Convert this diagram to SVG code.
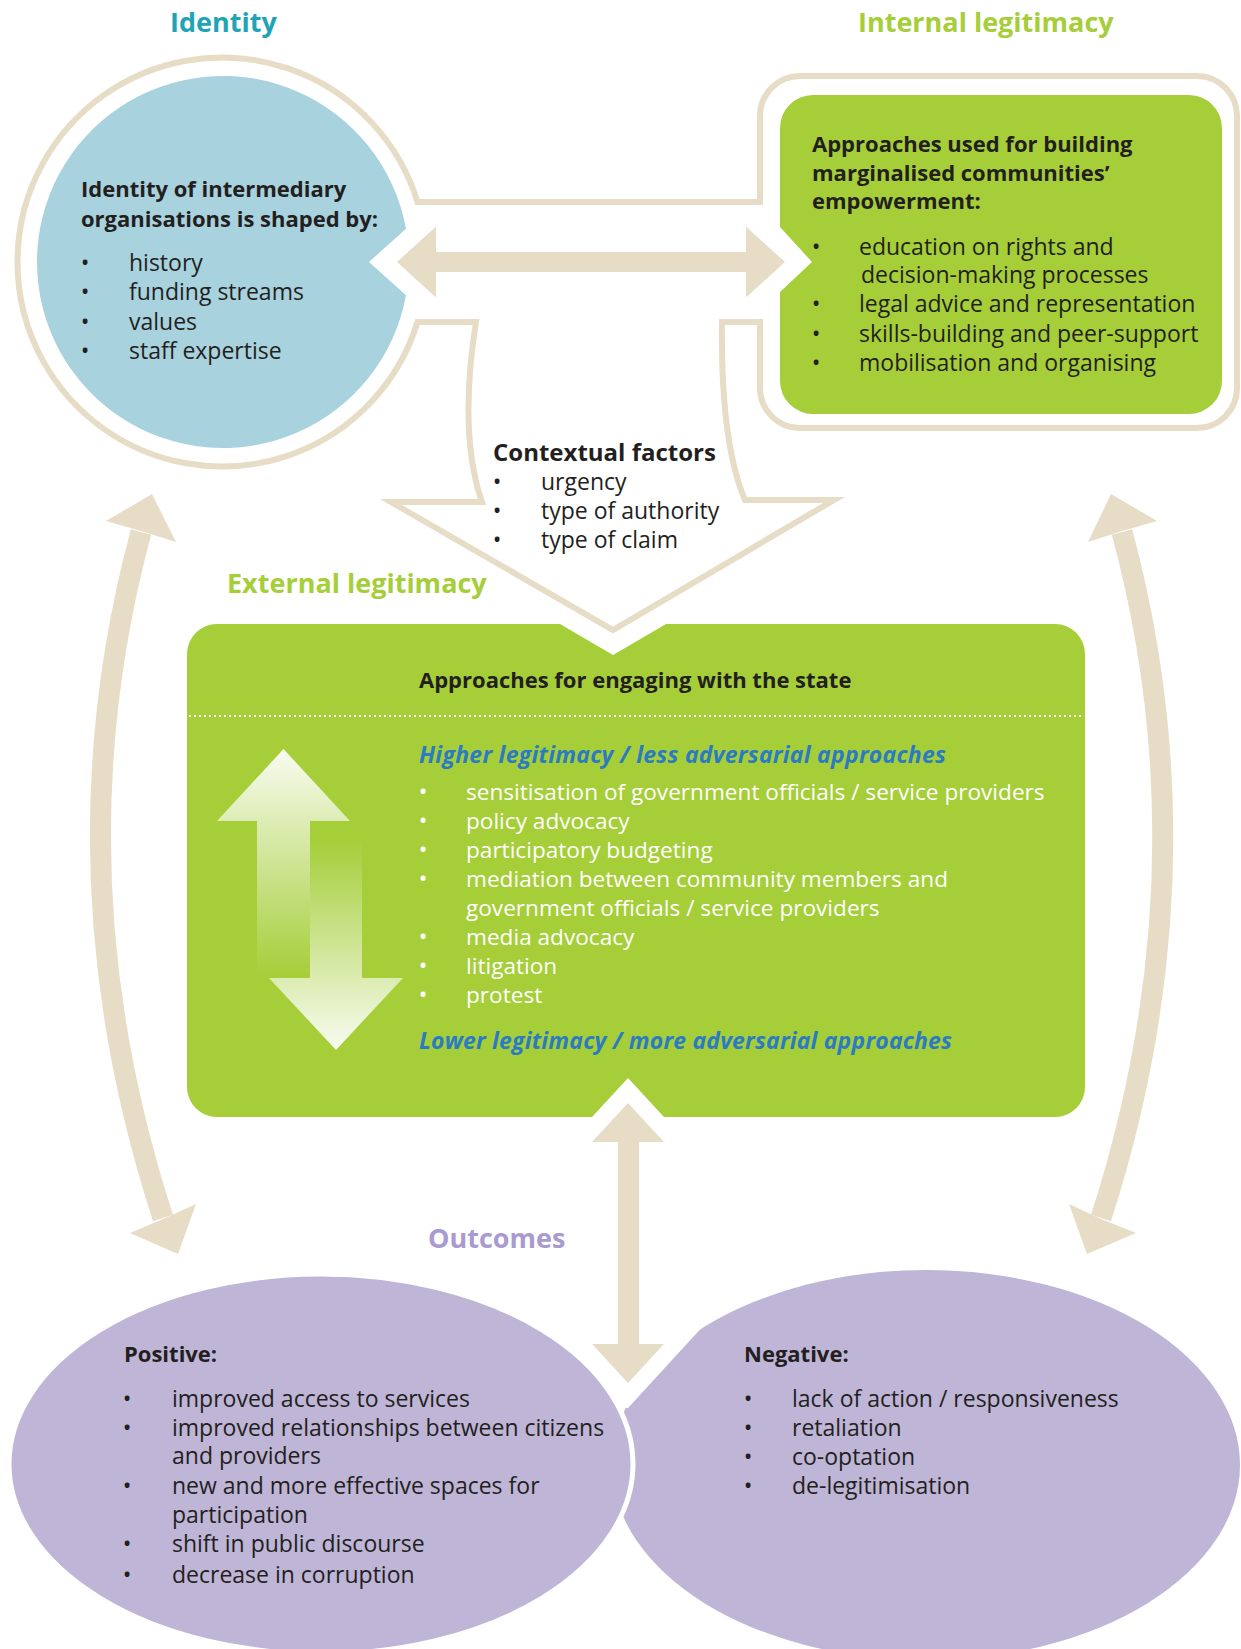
<svg xmlns="http://www.w3.org/2000/svg" width="1241" height="1649" viewBox="0 0 1241 1649">
<defs>
<style>
text{font-family:'Open Sans','Liberation Sans',Arial,sans-serif;fill:#231F20}
.ttl{font-size:27px;font-weight:700}
.hd{font-size:22px;font-weight:700}
.tx{font-size:23px;font-weight:400}
.tm{font-size:22.6px;font-weight:400;fill:#FFFFFF}
.bu{font-size:23px;text-anchor:middle}
.w{fill:#FFFFFF}
.it{font-size:23px;font-weight:700;font-style:italic;fill:#2B7BC2}
.beige{fill:#E7DCC5}
.shaft{fill:none;stroke:#E7DCC5;stroke-width:21}
</style>
<linearGradient id="gUp" gradientUnits="userSpaceOnUse" x1="0" y1="749" x2="0" y2="977">
<stop offset="0" stop-color="#FFFFFF" stop-opacity="0.93"/>
<stop offset="0.35" stop-color="#FFFFFF" stop-opacity="0.6"/>
<stop offset="1" stop-color="#FFFFFF" stop-opacity="0"/>
</linearGradient>
<linearGradient id="gDn" gradientUnits="userSpaceOnUse" x1="0" y1="1050" x2="0" y2="840">
<stop offset="0" stop-color="#FFFFFF" stop-opacity="0.93"/>
<stop offset="0.35" stop-color="#FFFFFF" stop-opacity="0.6"/>
<stop offset="1" stop-color="#FFFFFF" stop-opacity="0"/>
</linearGradient>
</defs>
<rect width="1241" height="1649" fill="#FFFFFF"/>

<g id="frame">
<path d="M 417.5 202 A 204.5 204.5 0 1 0 417.5 322 L 476 322 C 466 385 464 450 482 502 L 391 502 L 613 630 L 834 500 L 745 500 C 728 460 721 400 722 322 L 760 322 L 760 388 A 40 40 0 0 0 800 428 L 1197 428 A 40 40 0 0 0 1237 388 L 1237 116 A 40 40 0 0 0 1197 76 L 800 76 A 40 40 0 0 0 760 116 L 760 202 Z" fill="#FFFFFF" stroke="#E7DCC5" stroke-width="6" stroke-linejoin="miter" stroke-miterlimit="10"/>
</g>

<g id="identity">
<text class="ttl" x="170" y="32" style="fill:#1FA4B7">Identity</text>
<path d="M 406 228.7 A 186 186 0 1 0 406 295.3 L 369 262 Z" fill="#A8D2DE"/>
<text class="hd" x="81" y="197">Identity of intermediary</text>
<text class="hd" x="81" y="227">organisations is shaped by:</text>
<text class="bu" x="85" y="271">•</text><text class="tx" x="129" y="271">history</text>
<text class="bu" x="85" y="300">•</text><text class="tx" x="129" y="300">funding streams</text>
<text class="bu" x="85" y="330">•</text><text class="tx" x="129" y="330">values</text>
<text class="bu" x="85" y="359">•</text><text class="tx" x="129" y="359">staff expertise</text>
</g>

<g id="internal-legitimacy">
<text class="ttl" x="858" y="32" style="fill:#A5CE39">Internal legitimacy</text>
<path d="M 813 95 L 1189 95 A 33 33 0 0 1 1222 128 L 1222 381 A 33 33 0 0 1 1189 414 L 813 414 A 33 33 0 0 1 780 381 L 780 292 L 812 262 L 780 227 L 780 128 A 33 33 0 0 1 813 95 Z" fill="#A5CE39"/>
<text class="hd" x="812" y="152">Approaches used for building</text>
<text class="hd" x="812" y="181">marginalised communities’</text>
<text class="hd" x="812" y="209">empowerment:</text>
<text class="bu" x="816" y="255">•</text><text class="tx" x="859" y="255">education on rights and<tspan x="861" y="283">decision-making processes</tspan></text>
<text class="bu" x="816" y="312">•</text><text class="tx" x="859" y="312">legal advice and representation</text>
<text class="bu" x="816" y="342">•</text><text class="tx" x="859" y="342">skills-building and peer-support</text>
<text class="bu" x="816" y="371">•</text><text class="tx" x="859" y="371">mobilisation and organising</text>
</g>

<g id="contextual-factors">
<text class="hd" x="493" y="461" style="font-size:24px">Contextual factors</text>
<text class="bu" x="497" y="490">•</text><text class="tx" x="541" y="490">urgency</text>
<text class="bu" x="497" y="519">•</text><text class="tx" x="541" y="519">type of authority</text>
<text class="bu" x="497" y="548">•</text><text class="tx" x="541" y="548">type of claim</text>
</g>

<g id="external-legitimacy">
<text class="ttl" x="227" y="593" style="fill:#A5CE39">External legitimacy</text>
<path d="M 217 624 L 560 624 L 613 655 L 666 624 L 1055 624 A 30 30 0 0 1 1085 654 L 1085 1087 A 30 30 0 0 1 1055 1117 L 664 1117 L 628 1078 L 592 1117 L 217 1117 A 30 30 0 0 1 187 1087 L 187 654 A 30 30 0 0 1 217 624 Z" fill="#A5CE39"/>
<text class="hd" x="419" y="688">Approaches for engaging with the state</text>
<line x1="189" y1="716" x2="1083" y2="716" stroke="#FFFFFF" stroke-width="2" stroke-dasharray="2 3"/>
<polygon points="283.5,749 350,821 310,821 310,977 257,977 257,821 217,821" fill="url(#gUp)"/>
<polygon points="336,1050 403,978 362,978 362,840 310,840 310,978 269,978" fill="url(#gDn)"/>
<text class="it" x="419" y="763" textLength="527">Higher legitimacy / less adversarial approaches</text>
<text class="bu w" x="423" y="800">•</text><text class="tm" x="466" y="800">sensitisation of government officials / service providers</text>
<text class="bu w" x="423" y="829">•</text><text class="tm" x="466" y="829">policy advocacy</text>
<text class="bu w" x="423" y="858">•</text><text class="tm" x="466" y="858">participatory budgeting</text>
<text class="bu w" x="423" y="887">•</text><text class="tm" x="466" y="887">mediation between community members and<tspan x="466" y="916">government officials / service providers</tspan></text>
<text class="bu w" x="423" y="945">•</text><text class="tm" x="466" y="945">media advocacy</text>
<text class="bu w" x="423" y="974">•</text><text class="tm" x="466" y="974">litigation</text>
<text class="bu w" x="423" y="1003">•</text><text class="tm" x="466" y="1003">protest</text>
<text class="it" x="419" y="1049" textLength="533">Lower legitimacy / more adversarial approaches</text>
</g>

<g id="outcomes">
<text class="ttl" x="428" y="1248" style="fill:#A99BCF">Outcomes</text>
<ellipse cx="926" cy="1465" rx="314" ry="195" fill="#BEB5D7"/>
<polygon points="773,1250 628,1408 560,1408 560,1250" fill="#FFFFFF"/>
<ellipse cx="321" cy="1464" rx="312" ry="190" fill="#BEB5D7" stroke="#FFFFFF" stroke-width="5"/>
</g>

<g id="positive">
<text class="hd" x="124" y="1362">Positive:</text>
<text class="bu" x="127" y="1407">•</text><text class="tx" x="172" y="1407">improved access to services</text>
<text class="bu" x="127" y="1436">•</text><text class="tx" x="172" y="1436">improved relationships between citizens<tspan x="172" y="1464">and providers</tspan></text>
<text class="bu" x="127" y="1494">•</text><text class="tx" x="172" y="1494">new and more effective spaces for<tspan x="172" y="1523">participation</tspan></text>
<text class="bu" x="127" y="1552">•</text><text class="tx" x="172" y="1552">shift in public discourse</text>
<text class="bu" x="127" y="1583">•</text><text class="tx" x="172" y="1583">decrease in corruption</text>
</g>

<g id="negative">
<text class="hd" x="744" y="1362">Negative:</text>
<text class="bu" x="748" y="1407">•</text><text class="tx" x="792" y="1407">lack of action / responsiveness</text>
<text class="bu" x="748" y="1436">•</text><text class="tx" x="792" y="1436">retaliation</text>
<text class="bu" x="748" y="1465">•</text><text class="tx" x="792" y="1465">co-optation</text>
<text class="bu" x="748" y="1494">•</text><text class="tx" x="792" y="1494">de-legitimisation</text>
</g>

<g id="connectors">
<polygon class="beige" points="397,262 436,226.5 436,252 746,252 746,226.5 785,262 746,297.5 746,272 436,272 436,297.5"/>
<polygon class="beige" points="628,1103 664,1142 639,1142 639,1344 664,1344 628,1383 592,1344 618,1344 618,1142 592,1142"/>
<path class="shaft" d="M 141 532 Q 50 870 163 1218"/>
<polygon class="beige" points="152,494 176,542 141,531 106,521"/>
<polygon class="beige" points="178,1254 130,1233 163,1219 196,1204"/>
<path class="shaft" d="M 1122 532 Q 1213 870 1101 1218"/>
<polygon class="beige" points="1111,494 1157,521 1122,531 1088,542"/>
<polygon class="beige" points="1087,1254 1069,1204 1101,1219 1136,1233"/>
</g>
</svg>
